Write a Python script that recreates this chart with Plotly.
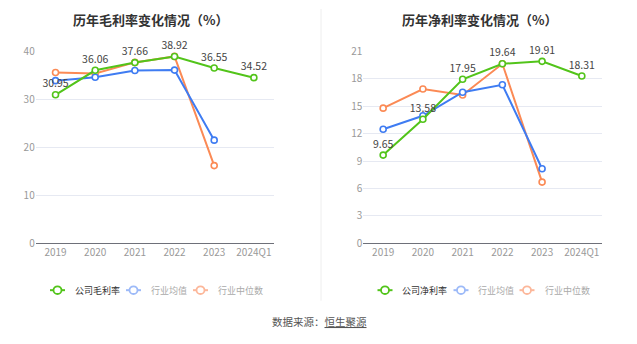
import plotly.graph_objects as go

W, H = 637, 344

years = ["2019", "2020", "2021", "2022", "2023", "2024Q1"]

# Gross margin (%)
gross_company = [30.95, 36.06, 37.66, 38.92, 36.55, 34.52]
gross_ind_avg = [33.9, 34.6, 36.0, 36.1, 21.5, None]
gross_ind_median = [35.6, 35.4, 37.7, 38.95, 16.2, None]

# Net margin (%)
net_company = [9.65, 13.58, 17.95, 19.64, 19.91, 18.31]
net_ind_avg = [12.48, 13.95, 16.53, 17.34, 8.16, None]
net_ind_median = [14.79, 16.88, 16.22, 19.64, 6.70, None]

gross_ticks = [0, 10, 20, 30, 40]
net_ticks = [0, 3, 6, 9, 12, 15, 18, 21]

titles = ["历年毛利率变化情况（%）", "历年净利率变化情况（%）"]
legend_left = ["公司毛利率", "行业均值", "行业中位数"]
legend_right = ["公司净利率", "行业均值", "行业中位数"]
source_text = "数据来源：<u>恒生聚源</u>"

GREEN, BLUE, ORANGE = "#52c41a", "#3f7cf2", "#fb8a55"
GREEN_L, BLUE_L, ORANGE_L = "#52c41a", "#9dbaf8", "#fcb79a"
FONT = "Noto Sans CJK SC"


def px(x):
    return x / W


def py(y):
    return 1 - y / H


fig = go.Figure()


def add_series(values, color, xa, ya, labels=False):
    fig.add_trace(go.Scatter(
        x=years, y=values, xaxis=xa, yaxis=ya,
        mode="lines+markers+text" if labels else "lines+markers",
        line=dict(color=color, width=2),
        marker=dict(symbol="circle", size=6, color="white",
                    line=dict(color=color, width=1.6)),
        text=[f"{v:.2f}" for v in values] if labels else None,
        textposition="top center",
        textfont=dict(family=FONT, size=10.5, color="#444"),
        showlegend=False, hoverinfo="skip", cliponaxis=False,
    ))


# Left panel: gross margin
add_series(gross_ind_median, ORANGE, "x", "y")
add_series(gross_ind_avg, BLUE, "x", "y")
add_series(gross_company, GREEN, "x", "y", labels=True)
# Right panel: net margin
add_series(net_ind_median, ORANGE, "x2", "y2")
add_series(net_ind_avg, BLUE, "x2", "y2")
add_series(net_company, GREEN, "x2", "y2", labels=True)

y_dom = [py(245), py(44.3)]
axis_common = dict(
    type="category", range=[-0.5, 5.5], showgrid=False,
    showline=True, linecolor="#6e7079", linewidth=1, ticks="",
    tickfont=dict(family=FONT, size=10, color="#999"),
    fixedrange=True,
)
yaxis_common = dict(
    showgrid=True, gridcolor="#e6e9f2", gridwidth=1, zeroline=False,
    showline=False, ticks="", tickfont=dict(family=FONT, size=10, color="#999"),
    fixedrange=True, domain=y_dom,
)

fig.update_layout(
    width=W, height=H,
    margin=dict(l=0, r=0, t=0, b=0),
    paper_bgcolor="white", plot_bgcolor="white",
    xaxis=dict(domain=[px(35.7), px(273.7)], anchor="y", **axis_common),
    yaxis=dict(range=[0, 40], tickvals=gross_ticks, anchor="x", **yaxis_common),
    xaxis2=dict(domain=[px(363.3), px(601.7)], anchor="y2", **axis_common),
    yaxis2=dict(range=[0, 21], tickvals=net_ticks, anchor="x2", **yaxis_common),
    showlegend=False,
)

annotations = []
shapes = []

# Panel titles
for title, cx in zip(titles, [151, 480]):
    annotations.append(dict(
        text=f"<b>{title}</b>", x=px(cx), y=py(11), xref="paper", yref="paper",
        xanchor="center", yanchor="middle", showarrow=False,
        font=dict(family=FONT, size=13, color="#333"),
    ))

# Divider between panels
shapes.append(dict(type="line", xref="paper", yref="paper",
                   x0=px(321), x1=px(321), y0=py(0), y1=py(305),
                   line=dict(color="#eeeeee", width=1)))

# Legends
leg_y = 294
legend_items = [
    (legend_left, [(57.5, 73), (133.5, 149), (200.5, 216)]),
    (legend_right, [(385, 400), (461, 476), (527, 543)]),
]
icon_colors = [GREEN_L, BLUE_L, ORANGE_L]
text_colors = ["#333", "#aaa", "#aaa"]
for names, spots in legend_items:
    for name, (cx, tx), ic, tc in zip(names, spots, icon_colors, text_colors):
        shapes.append(dict(type="line", xref="paper", yref="paper",
                           x0=px(cx - 7.5), x1=px(cx + 7.5), y0=py(leg_y), y1=py(leg_y),
                           line=dict(color=ic, width=2)))
        shapes.append(dict(type="circle", xref="paper", yref="paper",
                           x0=px(cx - 4), x1=px(cx + 4), y0=py(leg_y + 4), y1=py(leg_y - 4),
                           fillcolor="white", line=dict(color=ic, width=1.8)))
        annotations.append(dict(
            text=name, x=px(tx), y=py(leg_y), xref="paper", yref="paper",
            xanchor="left", yanchor="middle", showarrow=False,
            font=dict(family=FONT, size=9, color=tc),
        ))

# Data source
annotations.append(dict(
    text=source_text, x=px(319.5), y=py(327), xref="paper", yref="paper",
    xanchor="center", yanchor="middle", showarrow=False,
    font=dict(family=FONT, size=10.5, color="#555"),
))

fig.update_layout(annotations=annotations, shapes=shapes)

fig.write_html("out.html")
